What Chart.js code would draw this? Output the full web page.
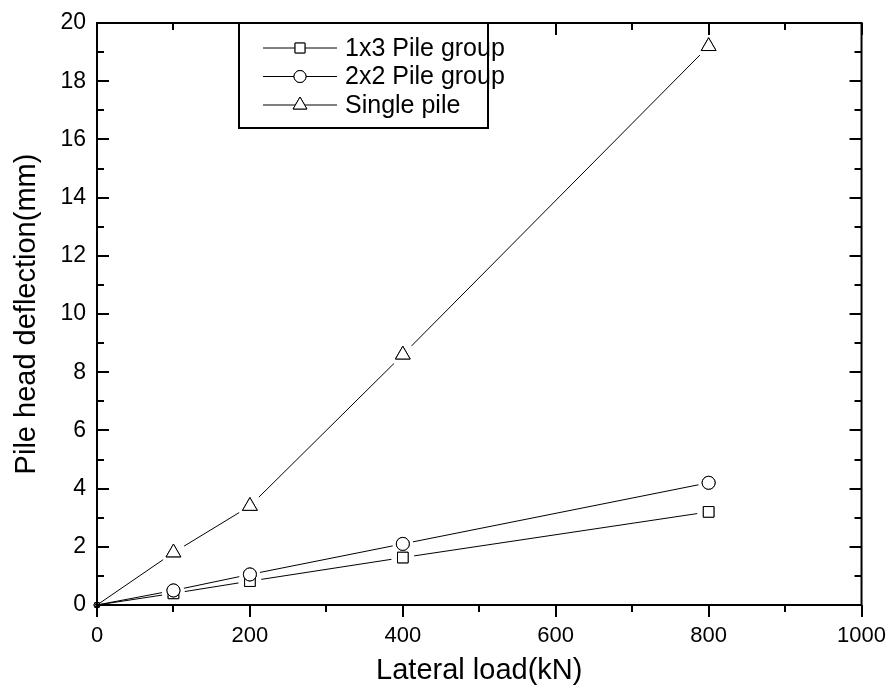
<!DOCTYPE html>
<html>
<head>
<meta charset="utf-8">
<script src="https://cdn.jsdelivr.net/npm/chart.js@4.4.1/dist/chart.umd.min.js"></script>
<style>
  html, body { margin: 0; padding: 0; background: #fff; }
  #wrap { width: 896px; height: 690px; }
</style>
</head>
<body>
<div id="wrap"><canvas id="c" width="896" height="690"></canvas></div>
<script>
// data
var loads = [0, 100, 200, 400, 800];
var group1x3 = [0, 0.4, 0.82, 1.63, 3.2];
var group2x2 = [0, 0.5, 1.05, 2.1, 4.2];
var singlePile = [0, 1.8, 3.4, 8.6, 19.2];
var seriesNames = ["1x3 Pile group", "2x2 Pile group", "Single pile"];
var seriesStyles = ["rect", "circle", "triangle"];
var markerSize = [7.5, 6.5, 8.5];
var xTicks = [0, 200, 400, 600, 800, 1000];
var yTicks = [0, 2, 4, 6, 8, 10, 12, 14, 16, 18, 20];

var FONT = "'Liberation Sans', Arial, sans-serif";

function pts(vals) {
  var out = [];
  for (var i = 0; i < loads.length; i++) out.push({x: loads[i], y: vals[i]});
  return out;
}

var allVals = [group1x3, group2x2, singlePile];
var datasets = [];
for (var i = 0; i < allVals.length; i++) {
  datasets.push({data: pts(allVals[i]), borderColor: "#000", borderWidth: 1, pointRadius: 0, showLine: true});
}

// markers drawn after the lines, each with a white gap round it like Origin does
var markerPlugin = {
  id: "markers",
  afterDatasetsDraw: function(chart) {
    var ctx = chart.ctx;
    ctx.save();
    // white halos first
    ctx.fillStyle = "#fff";
    for (var k = 0; k < datasets.length; k++) {
      var meta = chart.getDatasetMeta(k);
      for (var j = 0; j < meta.data.length; j++) {
        if (loads[j] == 0) continue;
        ctx.beginPath();
        ctx.arc(meta.data[j].x, meta.data[j].y, markerSize[k] + 4, 0, Math.PI * 2);
        ctx.fill();
      }
    }
    // then the open markers
    ctx.strokeStyle = "#000";
    ctx.lineWidth = 1;
    for (var k = 0; k < datasets.length; k++) {
      var meta = chart.getDatasetMeta(k);
      for (var j = 0; j < meta.data.length; j++) {
        var r = loads[j] == 0 ? 3 : markerSize[k];
        ctx.fillStyle = "#fff";
        Chart.helpers.drawPoint(ctx, {pointStyle: seriesStyles[k], radius: r, borderWidth: 1}, meta.data[j].x, meta.data[j].y);
        ctx.fill();
        ctx.stroke();
      }
    }
    ctx.restore();
  }
};

// frame; bottom ticks point out, the other sides point in
var framePlugin = {
  id: "frame",
  afterDatasetsDraw: function(chart) {
    var ctx = chart.ctx, a = chart.chartArea;
    var xs = chart.scales.x, ys = chart.scales.y;
    ctx.save();
    ctx.strokeStyle = "#000";
    ctx.lineWidth = 2;
    ctx.strokeRect(a.left, a.top, a.right - a.left, a.bottom - a.top);
    ctx.beginPath();
    for (var v = 0; v <= 1000; v += 100) {
      var len = (v % 200 == 0) ? 12 : 7;
      var px = Math.round(xs.getPixelForValue(v));
      ctx.moveTo(px, a.bottom); ctx.lineTo(px, a.bottom + len);
      ctx.moveTo(px, a.top); ctx.lineTo(px, a.top + len);
    }
    for (var v = 0; v <= 20; v += 1) {
      var len = (v % 2 == 0) ? 12 : 7;
      var py = Math.round(ys.getPixelForValue(v));
      ctx.moveTo(a.left, py); ctx.lineTo(a.left + len, py);
      ctx.moveTo(a.right, py); ctx.lineTo(a.right - len, py);
    }
    ctx.stroke();
    ctx.restore();
  }
};

// Origin-style legend: line sample with marker in the middle
var legendPlugin = {
  id: "boxLegend",
  afterDraw: function(chart) {
    var ctx = chart.ctx;
    var bx = 239, by = chart.chartArea.top, bw = 249, bh = 105;
    ctx.save();
    ctx.fillStyle = "#fff";
    ctx.fillRect(bx, by, bw, bh);
    ctx.strokeStyle = "#000";
    ctx.lineWidth = 2;
    ctx.strokeRect(bx, by, bw, bh);
    ctx.font = "25px " + FONT;
    ctx.textBaseline = "middle";
    ctx.textAlign = "left";
    for (var i = 0; i < seriesNames.length; i++) {
      var cy = by + 25 + i * 28.5;
      ctx.lineWidth = 1;
      ctx.beginPath();
      ctx.moveTo(263, cy); ctx.lineTo(337, cy);
      ctx.stroke();
      ctx.fillStyle = "#fff";
      Chart.helpers.drawPoint(ctx, {pointStyle: seriesStyles[i], radius: markerSize[i] - 0.5, borderWidth: 1}, 300, cy);
      ctx.fill();
      ctx.stroke();
      ctx.fillStyle = "#000";
      ctx.fillText(seriesNames[i], 345, cy + 1);
    }
    ctx.restore();
  }
};

new Chart(document.getElementById("c"), {
  type: "scatter",
  data: {datasets: datasets},
  options: {
    responsive: false,
    animation: false,
    layout: {padding: {left: 0, right: 30, top: 23, bottom: 0}},
    plugins: {legend: {display: false}, tooltip: {enabled: false}},
    scales: {
      x: {
        type: "linear", min: 0, max: 1000,
        grid: {display: false},
        border: {display: false},
        afterBuildTicks: function(s) { s.ticks = xTicks.map(function(v) { return {value: v}; }); },
        afterFit: function(s) { s.height = 85; },
        ticks: {color: "#000", font: {size: 22, family: FONT}, padding: 10, maxRotation: 0,
          callback: function(v) { return String(v); }},
        title: {display: true, text: "Lateral load(kN)", color: "#000", font: {size: 29, family: FONT}, padding: {bottom: 2}}
      },
      y: {
        type: "linear", min: 0, max: 20,
        grid: {display: false},
        border: {display: false},
        afterBuildTicks: function(s) { s.ticks = yTicks.map(function(v) { return {value: v}; }); },
        afterFit: function(s) { s.width = 97; },
        ticks: {color: "#000", font: {size: 23, family: FONT}, padding: 3,
          callback: function(v) { return String(v); }},
        title: {display: true, text: "Pile head deflection(mm)", color: "#000", font: {size: 29, family: FONT}, padding: {top: 10}}
      }
    }
  },
  plugins: [markerPlugin, framePlugin, legendPlugin]
});
</script>
</body>
</html>
